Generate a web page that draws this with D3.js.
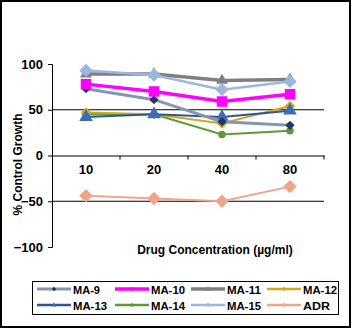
<!DOCTYPE html>
<html>
<head>
<meta charset="utf-8">
<script src="https://cdn.jsdelivr.net/npm/d3@7"></script>
<style>
  html, body { margin: 0; padding: 0; background: #fff; }
  svg { display: block; font-family: Arial, "Liberation Sans", sans-serif; }
</style>
</head>
<body>
<svg id="chart" width="352" height="330"></svg>
<script>
// Concentrations (µg/ml) on the x axis
const concentrations = ["10", "20", "40", "80"];

// % control growth for each compound
const ma9  = [73, 61, 37, 33];
const ma10 = [78, 70, 59, 67];
const ma11 = [89, 89, 82, 83];
const ma12 = [47, 45, 35, 54];
const ma13 = [42, 45, 42, 49];
const ma14 = [45, 45, 23, 27];
const ma15 = [93, 88, 72, 81];
const adr  = [-44, -47, -50, -34];

const yTicks = [100, 50, 0, -50, -100];

const series = [
  { name: "MA-9",  values: ma9,  line: "#8496B0", marker: "#1F3864", shape: "diamond",  width: 3,   size: 42 },
  { name: "MA-10", values: ma10, line: "#FF00FF", marker: "#FF00FF", shape: "square",   width: 3.5, size: 110 },
  { name: "MA-11", values: ma11, line: "#7F7F7F", marker: "#7F7F7F", shape: "triangle", width: 3.5, size: 60 },
  { name: "MA-12", values: ma12, line: "#D4A520", marker: "#D4A520", shape: "diamond",  width: 2,   size: 55 },
  { name: "MA-13", values: ma13, line: "#2F5597", marker: "#3E6BB8", shape: "triangle", width: 2,   size: 80 },
  { name: "MA-14", values: ma14, line: "#5E9A3A", marker: "#5E9A3A", shape: "circle",   width: 2,   size: 45 },
  { name: "MA-15", values: ma15, line: "#9BB7E0", marker: "#9BB7E0", shape: "diamond",  width: 2.5, size: 90 },
  { name: "ADR",   values: adr,  line: "#F0A488", marker: "#F0A488", shape: "diamond",  width: 2,   size: 90 }
];

// diamonds are squares turned by 45°
const symbolTypes = {
  diamond: d3.symbolSquare,
  square: d3.symbolSquare,
  triangle: d3.symbolTriangle,
  circle: d3.symbolCircle
};

const svg = d3.select("#chart");

// chart frame
svg.append("rect")
  .attr("x", 1).attr("y", 1).attr("width", 349).attr("height", 326)
  .attr("fill", "#fff").attr("stroke", "#000").attr("stroke-width", 2);

const plot = { left: 52, right: 324, top: 64, bottom: 247 };

const x = d3.scaleBand().domain(concentrations).range([plot.left, plot.right]);
const y = d3.scaleLinear().domain([-100, 100]).range([plot.bottom, plot.top]);

// horizontal gridlines at ±50
svg.append("g").selectAll("line")
  .data([50, -50])
  .join("line")
  .attr("x1", plot.left).attr("x2", plot.right)
  .attr("y1", d => y(d)).attr("y2", d => y(d))
  .attr("stroke", "#000").attr("stroke-width", 1);

// y axis
const yAxis = svg.append("g")
  .attr("transform", `translate(${plot.left},0)`)
  .call(d3.axisLeft(y).tickValues(yTicks).tickSize(4).tickPadding(5));
yAxis.selectAll("text").attr("font-size", 13).attr("font-weight", "bold").attr("fill", "#000");
yAxis.select(".domain").attr("stroke", "#000");

// x axis on the zero line
const xAxis = svg.append("g")
  .attr("transform", `translate(0,${y(0)})`)
  .call(d3.axisBottom(x).tickSize(0).tickPadding(9));
xAxis.select(".domain").attr("stroke", "#000");
xAxis.selectAll("text").attr("font-size", 13).attr("font-weight", "bold").attr("fill", "#000");
// category boundary ticks
svg.append("g").selectAll("line")
  .data(concentrations)
  .join("line")
  .attr("x1", d => x(d) + x.bandwidth()).attr("x2", d => x(d) + x.bandwidth())
  .attr("y1", y(0)).attr("y2", y(0) + 4)
  .attr("stroke", "#000");

// axis titles
svg.append("text")
  .attr("transform", `translate(22,${(plot.top + plot.bottom) / 2 + 9}) rotate(-90)`)
  .attr("text-anchor", "middle")
  .attr("font-size", 12).attr("font-weight", "bold")
  .text("% Control Growth");

svg.append("text")
  .attr("x", 215).attr("y", 254)
  .attr("text-anchor", "middle")
  .attr("font-size", 12).attr("font-weight", "bold")
  .text("Drug Concentration (µg/ml)");

// lines and markers
const line = d3.line()
  .x((d, i) => x(concentrations[i]) + x.bandwidth() / 2)
  .y(d => y(d));

const drawOrder = ["MA-14", "MA-12", "MA-13", "MA-9", "MA-10", "MA-11", "MA-15", "ADR"];
drawOrder.map(n => series.find(s => s.name === n)).forEach(s => {
  const g = svg.append("g");
  g.append("path")
    .attr("d", line(s.values))
    .attr("fill", "none")
    .attr("stroke", s.line)
    .attr("stroke-width", s.width);
  g.selectAll("path.m")
    .data(s.values)
    .join("path")
    .attr("class", "m")
    .attr("d", d3.symbol().type(symbolTypes[s.shape]).size(s.size))
    .attr("transform", (d, i) => {
      const cx = x(concentrations[i]) + x.bandwidth() / 2;
      return `translate(${cx},${y(d)})` + (s.shape === "diamond" ? " rotate(45)" : "");
    })
    .attr("fill", s.marker);
});

// legend
const legend = svg.append("g");
legend.append("rect")
  .attr("x", 32.5).attr("y", 281.5).attr("width", 306).attr("height", 33)
  .attr("fill", "#fff").attr("stroke", "#000").attr("stroke-width", 1);

const colX = [37, 115, 191, 267];
const rowY = [289, 305];
series.forEach((s, i) => {
  const cx = colX[i % 4], cy = rowY[Math.floor(i / 4)];
  const item = legend.append("g").attr("transform", `translate(${cx},${cy})`);
  item.append("line")
    .attr("x1", 0).attr("x2", 34).attr("y1", 0).attr("y2", 0)
    .attr("stroke", s.line).attr("stroke-width", Math.max(s.width, 2.5));
  item.append("path")
    .attr("d", d3.symbol().type(symbolTypes[s.shape]).size(10))
    .attr("transform", `translate(17,0)` + (s.shape === "diamond" ? " rotate(45)" : ""))
    .attr("fill", s.marker);
  item.append("text")
    .attr("x", 36).attr("y", 4.5)
    .attr("font-size", 11.5).attr("font-weight", "bold")
    .attr("textLength", s.name.length > 4 ? 34 : 27)
    .attr("lengthAdjust", "spacingAndGlyphs")
    .text(s.name);
});
</script>
</body>
</html>
